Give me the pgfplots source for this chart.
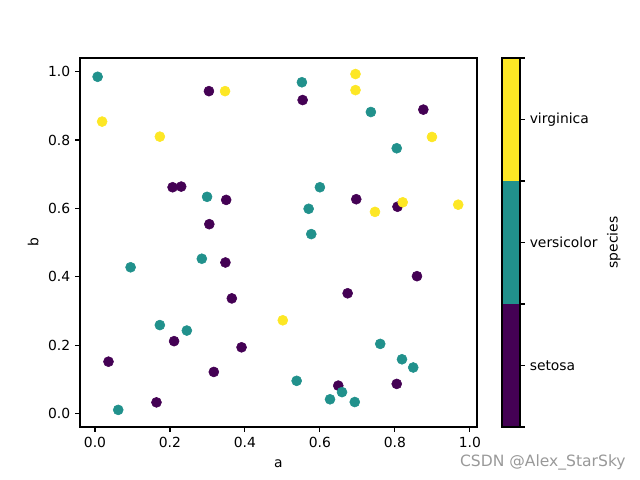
\documentclass[border=0pt]{standalone}
\usepackage{pgfplots}
\pgfplotsset{compat=1.18}
\usepackage{fontspec}
\setmainfont{DejaVu Sans}
\definecolor{vsetosa}{HTML}{440154}
\definecolor{vversi}{HTML}{21918C}
\definecolor{vvirg}{HTML}{FDE725}

\pgfplotsset{
  mplstyle/.style={
    scale only axis,
    tick align=outside,
    major tick length=3.5pt,
    minor tick length=2pt,
    axis line style={line width=0.8pt},
    every tick/.style={black, line width=0.8pt},
    tick label style={font=\fontsize{10}{12}\selectfont},
    label style={font=\fontsize{10}{12}\selectfont},
    /pgf/number format/assume math mode=true,
  },
  dot/.style={only marks, mark=*, mark size=3.6pt, draw=#1, fill=#1, mark options={draw=#1, fill=#1}},
}

\begin{document}
\begin{tikzpicture}
\path[use as bounding box] (0,0) rectangle (460.8pt,345.6pt);

\begin{axis}[
  mplstyle,
  at={(57.6pt,38.16pt)}, anchor=south west,
  width=285.8pt, height=265.7pt,
  xmin=-0.04, xmax=1.019,
  ymin=-0.039, ymax=1.04,
  xtick={0,0.2,0.4,0.6,0.8,1.0},
  ytick={0,0.2,0.4,0.6,0.8,1.0},
  xtick pos=bottom, ytick pos=left,
  xticklabel style={/pgf/number format/.cd, fixed, fixed zerofill, precision=1},
  yticklabel style={/pgf/number format/.cd, fixed, fixed zerofill, precision=1},
  xlabel={a}, ylabel={b},
  xlabel style={yshift=-2pt},
  clip=false,
]
% setosa
\addplot[dot=vsetosa] coordinates {
  (0.304,0.943) (0.207,0.662) (0.230,0.664) (0.350,0.625) (0.305,0.554)
  (0.554,0.917) (0.876,0.889) (0.697,0.627) (0.807,0.605) (0.348,0.442)
  (0.365,0.337) (0.211,0.212) (0.391,0.194) (0.036,0.152) (0.317,0.122)
  (0.164,0.033) (0.859,0.402) (0.674,0.352) (0.649,0.082) (0.805,0.087)
};
% versicolor
\addplot[dot=vversi] coordinates {
  (0.007,0.985) (0.299,0.634) (0.552,0.969) (0.736,0.882) (0.805,0.776)
  (0.600,0.662) (0.570,0.599) (0.577,0.525) (0.095,0.428) (0.285,0.453)
  (0.173,0.259) (0.245,0.243) (0.062,0.011) (0.761,0.204) (0.819,0.159)
  (0.849,0.135) (0.538,0.096) (0.659,0.063) (0.627,0.042) (0.693,0.034)
};
% virginica
\addplot[dot=vvirg] coordinates {
  (0.347,0.943) (0.019,0.854) (0.173,0.810) (0.695,0.993) (0.695,0.946)
  (0.899,0.809) (0.747,0.590) (0.821,0.618) (0.969,0.611) (0.501,0.273)
};
\end{axis}

% colorbar
\begin{axis}[
  mplstyle,
  at={(361.44pt,38.16pt)}, anchor=south west,
  width=12.96pt, height=265.7pt,
  xmin=0, xmax=1, ymin=0, ymax=3,
  xtick=\empty,
  ytick={0.5,1.5,2.5},
  yticklabels={setosa,versicolor,virginica},
  minor ytick={0,1,2,3},
  minor tick length=3.5pt,
  yticklabel pos=right, ytick pos=right,
  ylabel={species}, ylabel near ticks,
  axis on top,
]
\addplot[fill=vsetosa, draw=none] coordinates {(0,0) (1,0) (1,1) (0,1)} \closedcycle;
\addplot[fill=vversi, draw=none] coordinates {(0,1) (1,1) (1,2) (0,2)} \closedcycle;
\addplot[fill=vvirg, draw=none] coordinates {(0,2) (1,2) (1,3) (0,3)} \closedcycle;
\end{axis}

\node[anchor=east, text=black!40, font=\fontsize{11.2}{13}\selectfont] at (454pt,12.5pt) {CSDN @Alex\_StarSky};
\end{tikzpicture}
\end{document}
